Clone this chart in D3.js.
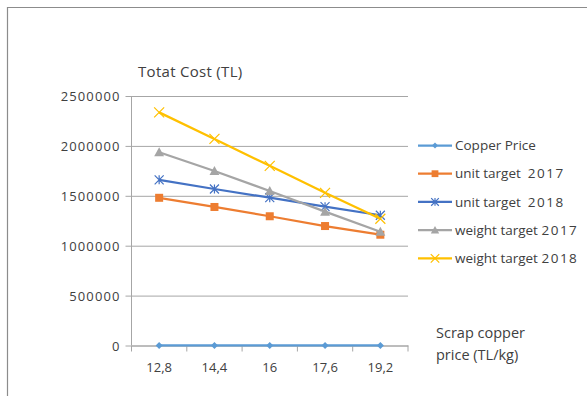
<!DOCTYPE html>
<html>
<head>
<meta charset="utf-8">
<script src="https://cdn.jsdelivr.net/npm/d3@7"></script>
<style>
  html, body { margin: 0; padding: 0; background: #fff; }
  svg text { font-family: "Open Sans", "Liberation Sans", sans-serif; fill: #404040; white-space: pre; }
</style>
</head>
<body>
<svg id="chart" width="587" height="396"></svg>
<script>
// Scrap copper price categories (TL/kg)
const categories = ["12,8", "14,4", "16", "17,6", "19,2"];

// Total cost per scenario (TL)
const copperPrice     = [12.8, 14.4, 16, 17.6, 19.2];
const unitTarget2017  = [1480000, 1388000, 1295000, 1197000, 1110000];
const unitTarget2018  = [1660000, 1568000, 1481000, 1391000, 1305000];
const weightTarget2017 = [1936000, 1749000, 1548000, 1341000, 1140000];
const weightTarget2018 = [2336000, 2070000, 1800000, 1530000, 1270000];

const seriesNames = ["Copper Price", "unit target  2017", "unit target  2018", "weight target 2017", "weight target 2018"];
const seriesColors = ["#5B9BD5", "#ED7D31", "#4472C4", "#A5A5A5", "#FFC000"];
const seriesMarkers = ["diamond", "square", "star", "triangle", "cross"];
const yTicks = [0, 500000, 1000000, 1500000, 2000000, 2500000];

const series = [copperPrice, unitTarget2017, unitTarget2018, weightTarget2017, weightTarget2018]
  .map((values, i) => ({ name: seriesNames[i], color: seriesColors[i], marker: seriesMarkers[i], values }));

const svg = d3.select("#chart");

// writes a label, widening digit runs slightly
function writeSpaced(textSel, str, digitSpacing) {
  str.split(/(\d+)/).filter(p => p.length).forEach(part => {
    const t = textSel.append("tspan").text(part);
    if (/^\d+$/.test(part)) t.attr("letter-spacing", digitSpacing);
  });
}

// outer frame (top and left edges)
svg.append("path")
  .attr("d", "M7.5,396 V7.5 H587")
  .attr("fill", "none").attr("stroke", "#8c8c8c").attr("stroke-width", 1.2);

const plot = { left: 131.5, right: 408, top: 96, bottom: 345.5 };

const x = d3.scaleBand().domain(categories).range([plot.left, plot.right]);
const y = d3.scaleLinear().domain([0, 2500000]).range([plot.bottom, plot.top]);

// horizontal gridlines with outside tick marks
const yAxis = d3.axisLeft(y).tickValues(yTicks).tickSize(-(plot.right - plot.left)).tickPadding(11).tickFormat(d3.format("d"));
const gy = svg.append("g").attr("transform", `translate(${plot.left},0)`).call(yAxis);
gy.select(".domain").remove();
gy.selectAll(".tick line").attr("x1", -6).attr("stroke", "#a6a6a6").attr("stroke-width", 1);
gy.selectAll(".tick text").attr("font-size", 13).attr("fill", "#404040").attr("dy", "0.36em")
  .attr("letter-spacing", 1.1);

// vertical axis line
svg.append("line")
  .attr("x1", plot.left).attr("x2", plot.left)
  .attr("y1", plot.top).attr("y2", plot.bottom)
  .attr("stroke", "#a6a6a6");

// category axis
const xAxis = d3.axisBottom(x).tickSize(0).tickPadding(17);
const gx = svg.append("g").attr("transform", `translate(0,${plot.bottom})`).call(xAxis);
gx.select(".domain").attr("stroke", "#a6a6a6");
gx.selectAll(".tick text").attr("font-size", 13).attr("fill", "#404040");
const boundaries = categories.map(c => x(c)).concat([x(categories[categories.length - 1]) + x.bandwidth()]);
svg.append("g").selectAll("line").data(boundaries).join("line")
  .attr("x1", d => d).attr("x2", d => d)
  .attr("y1", plot.bottom).attr("y2", plot.bottom + 6)
  .attr("stroke", "#a6a6a6");

// marker shapes
function drawMarker(g, type, color, size) {
  const s = size;
  if (type === "diamond") {
    g.append("path").attr("d", `M0,${-s * 0.5} L${s * 0.5},0 L0,${s * 0.5} L${-s * 0.5},0 Z`).attr("fill", color);
  } else if (type === "square") {
    g.append("rect").attr("x", -s * 0.5).attr("y", -s * 0.5).attr("width", s).attr("height", s).attr("fill", color);
  } else if (type === "triangle") {
    g.append("path").attr("d", `M0,${-s * 0.55} L${s * 0.55},${s * 0.45} L${-s * 0.55},${s * 0.45} Z`).attr("fill", color);
  } else if (type === "star") {
    const h = s * 0.5;
    g.append("path").attr("d", `M${-h},${-h} L${h},${h} M${-h},${h} L${h},${-h} M0,${-h} L0,${h}`)
      .attr("stroke", color).attr("stroke-width", 1.2).attr("fill", "none");
  } else if (type === "cross") {
    const h = s * 0.5;
    g.append("path").attr("d", `M${-h},${-h} L${h},${h} M${-h},${h} L${h},${-h}`)
      .attr("stroke", color).attr("stroke-width", 1.2).attr("fill", "none");
  }
}
const markerSize = { diamond: 7, square: 8, triangle: 9, star: 9, cross: 10 };

const line = d3.line()
  .x((d, i) => x(categories[i]) + x.bandwidth() / 2)
  .y(d => y(d));

const gSeries = svg.append("g");
series.forEach(s => {
  gSeries.append("path")
    .attr("d", line(s.values))
    .attr("fill", "none").attr("stroke", s.color).attr("stroke-width", 2.25)
    .attr("stroke-linejoin", "round");
  s.values.forEach((v, i) => {
    const m = gSeries.append("g")
      .attr("transform", `translate(${x(categories[i]) + x.bandwidth() / 2},${y(v)})`);
    drawMarker(m, s.marker, s.color, markerSize[s.marker]);
  });
});

// legend
const legend = svg.append("g");
series.forEach((s, i) => {
  const ly = 145.5 + i * 28.2;
  const g = legend.append("g").attr("transform", `translate(0,${ly})`);
  g.append("line").attr("x1", 418).attr("x2", 452).attr("y1", 0).attr("y2", 0)
    .attr("stroke", s.color).attr("stroke-width", 2.25);
  const m = g.append("g").attr("transform", "translate(435,0)");
  drawMarker(m, s.marker, s.color, markerSize[s.marker] * 0.85);
  const t = g.append("text").attr("x", 455).attr("y", 0).attr("dy", "0.35em")
    .attr("font-size", 13.5).attr("fill", "#404040");
  writeSpaced(t, s.name, 1.5);
});

// axis titles
svg.append("text").attr("x", 138).attr("y", 77).attr("font-size", 15).attr("fill", "#262626")
  .attr("letter-spacing", 0.3).text("Totat Cost (TL)");
const xt = svg.append("text").attr("x", 436).attr("font-size", 14.5).attr("fill", "#262626");
xt.append("tspan").attr("x", 436).attr("y", 338).text("Scrap copper");
xt.append("tspan").attr("x", 436).attr("y", 360).text("price (TL/kg)");
</script>
</body>
</html>
